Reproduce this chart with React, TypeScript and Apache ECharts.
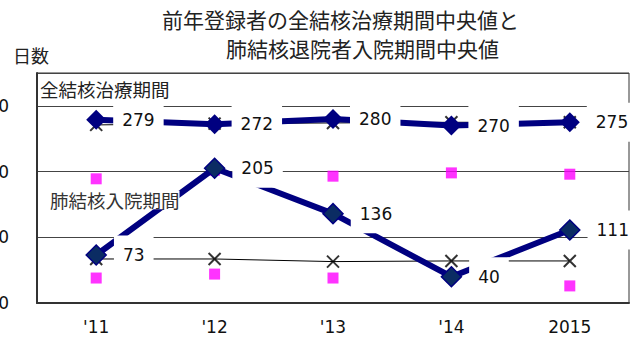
import React, { useEffect, useRef } from "react";
import * as echarts from "echarts";

const categories = ["'11", "'12", "'13", "'14", "2015"];
const totalTreatmentDays = [279, 272, 280, 270, 275];
const pulmonaryStayDays = [73, 205, 136, 40, 111];
const crossUpper = [271, 273, 274, 275, 275];
const crossLower = [67, 67, 63, 64, 64];
const squareUpper = [189, 202, 193, 198, 196];
const squareLower = [38, 44, 38, 40, 26];
const yAxisMax = 350;
const yAxisStep = 100;
const titleLines = ["前年登録者の全結核治療期間中央値と", "肺結核退院者入院期間中央値"];
const yAxisName = "日数";
const seriesNames = ["全結核治療期間", "肺結核入院期間"];

const SHIFT = 40;
const NUM_FONT = "'DejaVu Sans', Verdana, sans-serif";
const JP_FONT = "'Noto Sans CJK JP', sans-serif";

const valueLabel = {
  show: true,
  position: "right",
  distance: 7,
  fontSize: 17,
  fontFamily: NUM_FONT,
  color: "#111",
  backgroundColor: "#fff",
  padding: [11, 9],
};

const crossPath = "path://M0 0L10 10M10 0L0 10";

export default function App() {
  const ref = useRef<HTMLDivElement>(null);
  useEffect(() => {
    if (!ref.current) return;
    const chart = echarts.init(ref.current, null, { renderer: "svg" });
    const option: any = {
      animation: false,
      backgroundColor: "#fff",
      grid: {
        left: 37 + SHIFT,
        right: 15,
        top: 73,
        bottom: 37,
        show: true,
        borderColor: "#333",
        borderWidth: 1,
      },
      xAxis: {
        type: "category",
        data: categories,
        boundaryGap: true,
        axisLine: { lineStyle: { color: "#333", width: 2 } },
        axisTick: { inside: true, length: 7, lineStyle: { color: "#333", width: 1.5 } },
        axisLabel: { fontSize: 17, fontFamily: NUM_FONT, color: "#111", margin: 15 },
        splitLine: { show: false },
      },
      yAxis: {
        type: "value",
        min: 0,
        max: yAxisMax,
        interval: yAxisStep,
        axisLine: { show: true, lineStyle: { color: "#333", width: 2 } },
        axisTick: { show: false },
        axisLabel: {
          fontSize: 17,
          fontFamily: NUM_FONT,
          color: "#111",
          margin: 28,
          showMaxLabel: false,
        },
        splitLine: { lineStyle: { color: "#444", width: 1 } },
      },
      series: [
        {
          type: "line",
          data: crossUpper,
          symbol: "none",
          lineStyle: { color: "#000", width: 1 },
          silent: true,
        },
        {
          type: "line",
          data: crossLower,
          symbol: "none",
          lineStyle: { color: "#000", width: 1 },
          silent: true,
        },
        {
          name: seriesNames[0],
          type: "line",
          data: totalTreatmentDays,
          symbol: "diamond",
          symbolSize: 20,
          itemStyle: { color: "#000080" },
          lineStyle: { color: "#000080", width: 6 },
          label: valueLabel,
        },
        {
          name: seriesNames[1],
          type: "line",
          data: pulmonaryStayDays,
          symbol: "diamond",
          symbolSize: 20,
          itemStyle: { color: "#0b2c63", borderColor: "#000080", borderWidth: 1.5 },
          lineStyle: { color: "#000080", width: 6 },
          label: valueLabel,
        },
        {
          type: "scatter",
          data: crossUpper,
          symbol: crossPath,
          symbolSize: 12,
          itemStyle: { color: "#000", borderColor: "#000", borderWidth: 2 },
        },
        {
          type: "scatter",
          data: crossLower,
          symbol: crossPath,
          symbolSize: 12,
          itemStyle: { color: "#000", borderColor: "#000", borderWidth: 2 },
        },
        {
          type: "scatter",
          data: squareUpper,
          symbol: "rect",
          symbolSize: 11,
          itemStyle: { color: "#ff00ff" },
        },
        {
          type: "scatter",
          data: squareLower,
          symbol: "rect",
          symbolSize: 11,
          itemStyle: { color: "#ff00ff" },
        },
      ],
      graphic: [
        {
          type: "text",
          x: 162 + SHIFT,
          y: 19,
          style: { text: titleLines[0], fontSize: 21, fontFamily: JP_FONT, fill: "#222", verticalAlign: "middle" },
        },
        {
          type: "text",
          x: 226 + SHIFT,
          y: 48,
          style: { text: titleLines[1], fontSize: 21, fontFamily: JP_FONT, fill: "#222", verticalAlign: "middle" },
        },
        {
          type: "text",
          x: 13 + SHIFT,
          y: 55,
          style: { text: yAxisName, fontSize: 18, fontFamily: JP_FONT, fill: "#222", verticalAlign: "middle" },
        },
        {
          type: "text",
          x: 40 + SHIFT,
          y: 89,
          style: { text: seriesNames[0], fontSize: 18.5, fontFamily: JP_FONT, fill: "#222", verticalAlign: "middle" },
        },
        {
          type: "text",
          x: 50 + SHIFT,
          y: 200,
          z: 100,
          style: {
            text: seriesNames[1],
            fontSize: 18.5,
            fontFamily: JP_FONT,
            fill: "#333",
            verticalAlign: "middle",
            backgroundColor: "#fff",
          },
        },
      ],
    };
    chart.setOption(option);
    return () => chart.dispose();
  }, []);
  return (
    <div
      ref={ref}
      style={{ position: "absolute", left: -SHIFT, top: 0, width: 644 + SHIFT, height: 340 }}
    />
  );
}
